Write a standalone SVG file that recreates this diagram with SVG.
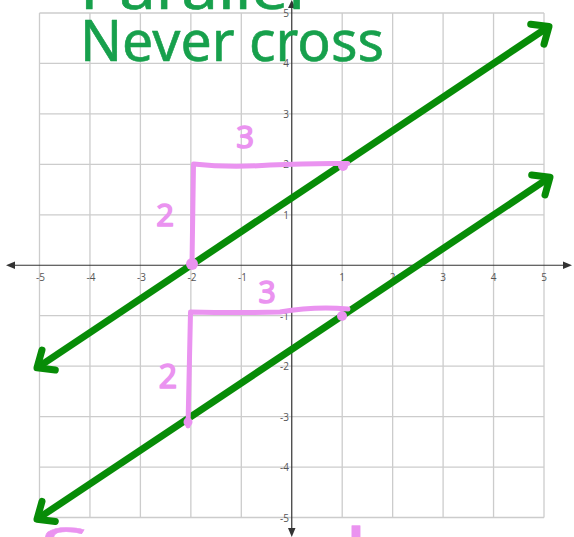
<svg xmlns="http://www.w3.org/2000/svg" width="574" height="537" viewBox="0 0 574 537">
  <style>
    .grid line { stroke: #cccccc; stroke-width: 1.3; }
    .axis { stroke: #333333; stroke-width: 1.2; fill: none; }
    .axhead { fill: #333333; }
    .tick { font-family: "Open Sans", "Liberation Sans", sans-serif; font-size: 10px; fill: #555555; }
    .tx { text-anchor: middle; }
    .ty { text-anchor: end; }
    .gline { stroke: #078c07; stroke-width: 7; fill: none; }
    .hand-g { font-family: "Noto Sans", "DejaVu Sans", sans-serif; fill: #17a04c; stroke: #17a04c; stroke-width: 0.6; stroke-linejoin: round; }
    .pink { stroke: #ea93f0; stroke-width: 5; fill: none; stroke-linecap: round; stroke-linejoin: round; }
    .pdot { fill: #ea93f0; }
    .hand-p { font-family: "Noto Sans", "DejaVu Sans", sans-serif; fill: #ea93f0; stroke: #ea93f0; stroke-width: 1.5; stroke-linejoin: round; }
    .foot { font-family: "Noto Sans", "DejaVu Sans", sans-serif; fill: #ea93f0; stroke: #ea93f0; stroke-width: 0.5; }
  </style>
  <defs>
    <marker id="chev" markerUnits="userSpaceOnUse" orient="auto-start-reverse" refX="0" refY="0" markerWidth="40" markerHeight="40" viewBox="-20 -20 40 40" overflow="visible">
      <path d="M-14,-12 L0,0 L-14,12" fill="none" stroke="#078c07" stroke-width="7" stroke-linecap="round" stroke-linejoin="round"/>
    </marker>
  </defs>
  <rect width="574" height="537" fill="#ffffff"/>

  <g id="grid" class="grid">
    <line x1="39.5" y1="13" x2="39.5" y2="517.5"/>
    <line x1="89.95" y1="13" x2="89.95" y2="517.5"/>
    <line x1="140.4" y1="13" x2="140.4" y2="517.5"/>
    <line x1="190.85" y1="13" x2="190.85" y2="517.5"/>
    <line x1="241.3" y1="13" x2="241.3" y2="517.5"/>
    <line x1="342.2" y1="13" x2="342.2" y2="517.5"/>
    <line x1="392.65" y1="13" x2="392.65" y2="517.5"/>
    <line x1="443.1" y1="13" x2="443.1" y2="517.5"/>
    <line x1="493.55" y1="13" x2="493.55" y2="517.5"/>
    <line x1="544" y1="13" x2="544" y2="517.5"/>
    <line x1="39.5" y1="13" x2="544" y2="13"/>
    <line x1="39.5" y1="63.45" x2="544" y2="63.45"/>
    <line x1="39.5" y1="113.9" x2="544" y2="113.9"/>
    <line x1="39.5" y1="164.35" x2="544" y2="164.35"/>
    <line x1="39.5" y1="214.8" x2="544" y2="214.8"/>
    <line x1="39.5" y1="315.7" x2="544" y2="315.7"/>
    <line x1="39.5" y1="366.15" x2="544" y2="366.15"/>
    <line x1="39.5" y1="416.6" x2="544" y2="416.6"/>
    <line x1="39.5" y1="467.05" x2="544" y2="467.05"/>
    <line x1="39.5" y1="517.5" x2="544" y2="517.5"/>
  </g>

  <g id="axes">
    <line class="axis" x1="12" y1="265.25" x2="566" y2="265.25"/>
    <line class="axis" x1="291.75" y1="4" x2="291.75" y2="531"/>
    <path class="axhead" d="M6,265.25 L15,261.5 L15,269 Z"/>
    <path class="axhead" d="M572,265.25 L563,261.5 L563,269 Z"/>
    <path class="axhead" d="M291.75,537 L288,528 L295.5,528 Z"/>
    <path class="axhead" d="M291.75,0 L288,8 L295.5,8 Z"/>
  </g>

  <g id="ticks">
    <text class="tick tx" x="40.5" y="281">-5</text>
    <text class="tick tx" x="91" y="281">-4</text>
    <text class="tick tx" x="141.5" y="281">-3</text>
    <text class="tick tx" x="192" y="281">-2</text>
    <text class="tick tx" x="242.5" y="281">-1</text>
    <text class="tick tx" x="342.2" y="281">1</text>
    <text class="tick tx" x="392.65" y="281">2</text>
    <text class="tick tx" x="443.1" y="281">3</text>
    <text class="tick tx" x="493.55" y="281">4</text>
    <text class="tick tx" x="544" y="281">5</text>
    <text class="tick ty" x="289" y="16.5">5</text>
    <text class="tick ty" x="289" y="67">4</text>
    <text class="tick ty" x="289" y="117.5">3</text>
    <text class="tick ty" x="289" y="168">2</text>
    <text class="tick ty" x="289" y="218.5">1</text>
    <text class="tick ty" x="289" y="319.5">-1</text>
    <text class="tick ty" x="289" y="370">-2</text>
    <text class="tick ty" x="289" y="420.5">-3</text>
    <text class="tick ty" x="289" y="471">-4</text>
    <text class="tick ty" x="289" y="521.5">-5</text>
  </g>

  <g id="connectors">
    <line id="line-upper" class="gline" x1="37" y1="367.8" x2="549" y2="26.5" marker-start="url(#chev)" marker-end="url(#chev)"/>
    <line id="line-lower" class="gline" x1="37" y1="519.2" x2="550" y2="177.2" marker-start="url(#chev)" marker-end="url(#chev)"/>
  </g>

  <g id="heading">
    <text class="hand-g" x="80" y="9" font-size="54" textLength="225" lengthAdjust="spacingAndGlyphs">Parallel</text>
    <text class="hand-g" x="80" y="61" font-size="56" textLength="304" lengthAdjust="spacingAndGlyphs">Never cross</text>
  </g>

  <g id="slope-upper">
    <path class="pink" d="M192,264 L193.5,164 Q230,168 270,165 Q310,163 348,163.5"/>
    <circle class="pdot" cx="192" cy="264" r="6"/>
    <circle class="pdot" cx="343" cy="166" r="5"/>
    <text class="hand-p" x="245" y="148" font-size="31" text-anchor="middle">3</text>
    <text class="hand-p" x="165" y="226" font-size="31" text-anchor="middle">2</text>
  </g>

  <g id="slope-lower">
    <path class="pink" d="M188,426 L190.5,312 Q240,313 280,312 Q315,306 348,309"/>
    <circle class="pdot" cx="342" cy="316" r="5"/>
    <circle class="pdot" cx="188" cy="422" r="4.5"/>
    <text class="hand-p" x="267" y="303" font-size="30" text-anchor="middle">3</text>
    <text class="hand-p" x="168" y="388" font-size="32" text-anchor="middle">2</text>
  </g>

  <g id="footer">
    <text class="foot" x="40" y="566" font-size="52" textLength="490" lengthAdjust="spacingAndGlyphs">Same slope</text>
  </g>
</svg>
